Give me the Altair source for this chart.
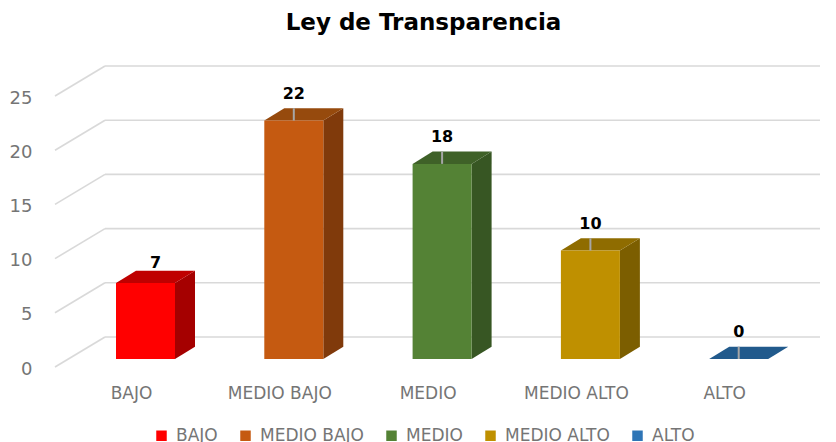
import json
import altair as alt
import pandas as pd

categories = ["BAJO", "MEDIO BAJO", "MEDIO", "MEDIO ALTO", "ALTO"]
values = [7, 22, 18, 10, 0]
front_colors = ["#FF0000", "#C55A11", "#548235", "#BF9000", "#2E75B6"]
side_colors = ["#A50000", "#803A0B", "#375623", "#7C5E00", "#1E4E79"]
top_colors = ["#BF0000", "#964A0D", "#3F6128", "#8F6C00", "#215A8C"]
has_leader = [False, True, True, True, True]
y_ticks = [0, 5, 10, 15, 20, 25]

# projection constants, in scale units
PX_X, PX_Y = 148.3, 10.84
X_MIN, X_MAX = -76 / PX_X, 689 / PX_X
Y_MIN, Y_MAX = -5 / PX_Y, 307 / PX_Y
SHIFT_X, SHIFT_Y = 14.5 / PX_X, 8 / PX_Y      # front plane of the bars
DX, DY = 20 / PX_X, 12.3 / PX_Y               # bar depth
HALF = 29.5 / PX_X                            # half bar width
WALL_X, WALL_Y = 50 / PX_X, 30 / PX_Y         # back wall

xs = alt.Scale(domain=[X_MIN, X_MAX], nice=False, zero=False)
ys = alt.Scale(domain=[Y_MIN, Y_MAX], nice=False, zero=False)
X = lambda f="x": alt.X(f"{f}:Q", scale=xs, title=None)
Y = lambda f="y": alt.Y(f"{f}:Q", scale=ys, title=None)

front, side, top, leaders, labels = [], [], [], [], []
for i, (c, v) in enumerate(zip(categories, values)):
    xl = i + SHIFT_X - HALF
    xr = i + SHIFT_X + HALF
    base = SHIFT_Y
    t = v + SHIFT_Y
    if v > 0:
        front.append(dict(cat=c, x=xl, x2=xr, y=t, y2=base))
    else:
        front.append(dict(cat=c, x=xl, x2=xl, y=t, y2=t))
    if v > 0:
        side += [dict(fill=side_colors[i], x=xr, y=t, y2=base),
                 dict(fill=side_colors[i], x=xr + DX, y=t + DY, y2=base + DY)]
    top += [dict(fill=top_colors[i], x=xl, y=t, y2=t),
            dict(fill=top_colors[i], x=xl + DX, y=t + DY, y2=t),
            dict(fill=top_colors[i], x=xr, y=t + DY, y2=t),
            dict(fill=top_colors[i], x=xr + DX, y=t + DY, y2=t + DY)]
    if has_leader[i]:
        leaders.append(dict(x=i + SHIFT_X, y=t, y2=t + DY))
    labels.append(dict(
        text=str(v),
        x=i + SHIFT_X + (0 if has_leader[i] else 10 / PX_X),
        y=t + (27 if has_leader[i] else 20) / PX_Y))

wall, diag = [], []
for k in y_ticks:
    wall.append(dict(x=X_MIN + WALL_X, x2=X_MAX, y=k + WALL_Y))
    diag += [dict(k=k, x=X_MIN, y=k), dict(k=k, x=X_MIN + WALL_X, y=k + WALL_Y)]

GRID = "#D9D9D9"
label_expr = json.dumps(categories) + "[datum.value]"
wall_l = alt.Chart(pd.DataFrame(wall)).mark_rule(color=GRID, strokeWidth=1.6).encode(
    x=X(), x2="x2:Q", y=Y())
diag_l = alt.Chart(pd.DataFrame(diag)).mark_line(color=GRID, strokeWidth=1.6).encode(
    x=X(), y=Y(), detail="k:Q")
side_l = alt.Chart(pd.DataFrame(side)).mark_area(opacity=1).encode(
    x=X(), y=Y(), y2="y2:Q", fill=alt.Fill("fill:N", scale=None, legend=None))
top_l = alt.Chart(pd.DataFrame(top)).mark_area(opacity=1).encode(
    x=X(), y=Y(), y2="y2:Q", fill=alt.Fill("fill:N", scale=None, legend=None))
front_l = alt.Chart(pd.DataFrame(front)).mark_rect().encode(
    x=X(), x2="x2:Q", y=Y(), y2="y2:Q",
    color=alt.Color("cat:N", scale=alt.Scale(domain=categories, range=front_colors),
                    sort=categories, legend=alt.Legend(
        title=None, orient="none", legendX=98, legendY=367, direction="horizontal",
        symbolType="square", symbolSize=110, symbolStrokeWidth=0, labelFontSize=17,
        labelColor="#757575", labelFont="DejaVu Sans", columnPadding=19, labelOffset=6,
        symbolOpacity=1)),
)
leader_l = alt.Chart(pd.DataFrame(leaders)).mark_rule(color="#A6A6A6", strokeWidth=2).encode(
    x=X(), y=Y(), y2="y2:Q")
text_l = alt.Chart(pd.DataFrame(labels)).mark_text(
    font="DejaVu Sans", fontWeight="bold", fontSize=16, color="#000000", baseline="middle"
).encode(x=X(), y=Y(), text="text:N")

chart = alt.layer(wall_l, diag_l, side_l, top_l, front_l, leader_l, text_l).resolve_axis(
    x="shared", y="shared"
).properties(
    width=765, height=312,
    autosize=alt.AutoSizeParams(type="none"),
    padding={"left": 47, "top": 52, "right": 8, "bottom": 70},
    title=alt.TitleParams("Ley de Transparencia", font="DejaVu Sans", fontSize=23,
                          fontWeight="bold", color="#000000", anchor="middle",
                          dx=-14, offset=25),
).configure_view(stroke=None).configure_axisX(
    values=list(range(len(categories))), labelExpr=label_expr, grid=False,
    domainOpacity=0, tickOpacity=0, labelPadding=8, labelFontSize=17,
    labelColor="#757575", labelFont="DejaVu Sans", labelFlush=False,
).configure_axisY(
    values=y_ticks, grid=False, domainOpacity=0, tickOpacity=0, labelPadding=18, labelOffset=2,
    labelFontSize=18, labelColor="#757575", labelFont="DejaVu Sans",
)

chart.save("out.html", embed_options={"renderer": "svg", "actions": False})
